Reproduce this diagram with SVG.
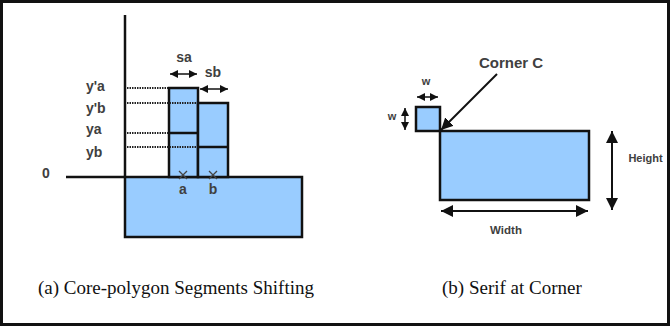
<svg xmlns="http://www.w3.org/2000/svg" width="670" height="327" viewBox="0 0 670 327">
<style>
.sh{fill:#99ccff;stroke:#111;stroke-width:2.5}
.ln{stroke:#111;stroke-width:2.5;fill:none}
.dot{stroke:#222;stroke-width:2;stroke-dasharray:1.5 1;fill:none}
.ar{stroke:#111;stroke-width:1.5;fill:none}
.lb{font-family:"Liberation Sans",Arial,sans-serif;font-weight:bold;fill:#404040;font-size:14px;text-anchor:middle}
.ls{text-anchor:start}
.cap{font-family:"Liberation Serif","Times New Roman",serif;font-size:19px;fill:#111}
</style>
<defs>
<marker id="ah" viewBox="0 0 10 10" refX="10" refY="5" markerWidth="8" markerHeight="8" markerUnits="userSpaceOnUse" orient="auto-start-reverse"><path d="M0,0 L10,5 L0,10 z" fill="#111"/></marker>
<marker id="ahl" viewBox="0 0 10 10" refX="10" refY="5" markerWidth="12" markerHeight="12" markerUnits="userSpaceOnUse" orient="auto-start-reverse"><path d="M0,0 L10,5 L0,10 z" fill="#111"/></marker>
</defs>
<rect x="1.5" y="1.5" width="667" height="323" fill="#fff" stroke="#111" stroke-width="3"/>

<g id="panel-a">
<g id="base"><rect class="sh" x="125" y="177" width="177" height="60"/></g>
<g id="stack-a"><rect class="sh" x="169" y="88" width="29" height="89"/><line class="ln" x1="169" y1="133" x2="198" y2="133"/></g>
<g id="stack-b"><rect class="sh" x="198" y="103" width="30" height="74"/><line class="ln" x1="198" y1="147" x2="228" y2="147"/></g>
<g id="axes"><line class="ln" x1="125" y1="15" x2="125" y2="177"/><line class="ln" x1="66" y1="177" x2="125" y2="177"/></g>
<g id="guides">
<line class="dot" x1="127" y1="88" x2="168" y2="88"/>
<line class="dot" x1="127" y1="103" x2="197" y2="103"/>
<line class="dot" x1="127" y1="133" x2="168" y2="133"/>
<line class="dot" x1="127" y1="147" x2="197" y2="147"/>
</g>
<g id="marks" stroke="#444" stroke-width="1.3" fill="none">
<path d="M179,171 L187,179 M187,171 L179,179"/>
<path d="M209,171 L217,179 M217,171 L209,179"/>
</g>
<g id="shift-arrows">
<line class="ar" x1="170" y1="74" x2="197" y2="74" marker-start="url(#ah)" marker-end="url(#ah)"/>
<line class="ar" x1="200" y1="89" x2="228" y2="89" marker-start="url(#ah)" marker-end="url(#ah)"/>
</g>
<g id="labels-a">
<text class="lb" x="184" y="62">sa</text>
<text class="lb" x="213" y="77">sb</text>
<text class="lb ls" x="86" y="91">y'a</text>
<text class="lb ls" x="86" y="113">y'b</text>
<text class="lb ls" x="86" y="134">ya</text>
<text class="lb ls" x="86" y="157">yb</text>
<text class="lb" x="46" y="178">0</text>
<text class="lb" x="183" y="194">a</text>
<text class="lb" x="213" y="194">b</text>
</g>
</g>

<g id="panel-b">
<g id="serif"><rect class="sh" x="416" y="107" width="24" height="24"/></g>
<g id="core"><rect class="sh" x="440" y="131" width="149" height="69"/></g>
<g id="connectors">
<line x1="497" y1="74" x2="441" y2="130" stroke="#111" stroke-width="2" marker-end="url(#ahl)"/>
<line class="ar" x1="417" y1="97" x2="438" y2="97" marker-start="url(#ah)" marker-end="url(#ah)"/>
<line class="ar" x1="405" y1="108" x2="405" y2="130" marker-start="url(#ah)" marker-end="url(#ah)"/>
<line x1="612" y1="131" x2="612" y2="210" stroke="#111" stroke-width="2" marker-start="url(#ahl)" marker-end="url(#ahl)"/>
<line x1="441" y1="211" x2="588" y2="211" stroke="#111" stroke-width="2" marker-start="url(#ahl)" marker-end="url(#ahl)"/>
</g>
<g id="labels-b">
<text class="lb" x="511" y="68" style="font-size:15px">Corner C</text>
<text class="lb" x="426" y="85" style="font-size:11px">w</text>
<text class="lb" x="392" y="120" style="font-size:11px">w</text>
<text class="lb" x="645.5" y="162" style="font-size:11px">Height</text>
<text class="lb" x="506" y="234" style="font-size:11.5px">Width</text>
</g>
</g>

<g id="captions">
<text class="cap" x="38" y="294">(a) Core-polygon Segments Shifting</text>
<text class="cap" x="442" y="294">(b) Serif at Corner</text>
</g>
</svg>
